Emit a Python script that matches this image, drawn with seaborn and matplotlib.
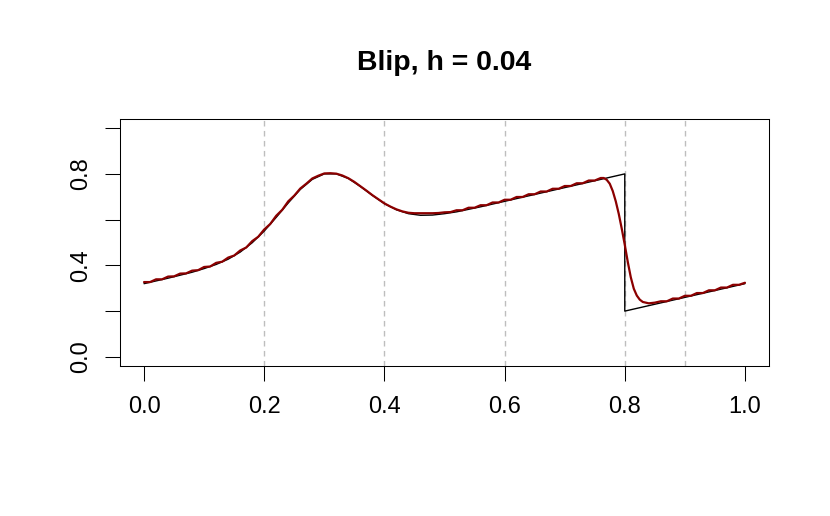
import matplotlib
matplotlib.use("Agg")
import matplotlib.pyplot as plt
import seaborn as sns

# true Blip curve (black)
truth_x = [0.00, 0.02, 0.04, 0.06, 0.08, 0.10, 0.12, 0.14, 0.16, 0.18,
           0.20, 0.22, 0.24, 0.26, 0.28, 0.30, 0.32, 0.34, 0.36, 0.38,
           0.40, 0.42, 0.44, 0.46, 0.48, 0.50, 0.52, 0.54, 0.56,
           0.80, 0.80, 1.00]
truth_y = [0.320, 0.332, 0.344, 0.357, 0.370, 0.386, 0.404, 0.427, 0.458, 0.499,
           0.550, 0.610, 0.673, 0.732, 0.776, 0.800, 0.800, 0.780, 0.745, 0.706,
           0.670, 0.643, 0.626, 0.619, 0.620, 0.626, 0.634, 0.645, 0.656,
           0.800, 0.200, 0.320]

# smoothed estimate (dark red)
fit_x = [0.00, 0.01, 0.02, 0.03, 0.04, 0.05, 0.06, 0.07, 0.08, 0.09,
         0.10, 0.11, 0.12, 0.13, 0.14, 0.15, 0.16, 0.17, 0.18, 0.19,
         0.20, 0.21, 0.22, 0.23, 0.24, 0.25, 0.26, 0.27, 0.28, 0.29,
         0.30, 0.31, 0.32, 0.33, 0.34, 0.35, 0.36, 0.37, 0.38, 0.39,
         0.40, 0.41, 0.42, 0.43, 0.44, 0.45, 0.46, 0.47, 0.48, 0.49,
         0.50, 0.51, 0.52, 0.53, 0.54, 0.55, 0.56, 0.57, 0.58, 0.59,
         0.60, 0.61, 0.62, 0.63, 0.64, 0.65, 0.66, 0.67, 0.68, 0.69,
         0.70, 0.71, 0.72, 0.73, 0.74, 0.75, 0.76, 0.765, 0.77, 0.775,
         0.78, 0.785, 0.79, 0.795, 0.80, 0.805, 0.81, 0.815, 0.82, 0.825,
         0.83, 0.84, 0.85, 0.86, 0.87, 0.88, 0.89, 0.90, 0.91, 0.92,
         0.93, 0.94, 0.95, 0.96, 0.97, 0.98, 0.99, 1.00]
fit_y = [0.327, 0.327, 0.339, 0.339, 0.351, 0.352, 0.364, 0.365, 0.377, 0.379,
         0.393, 0.395, 0.411, 0.416, 0.434, 0.443, 0.465, 0.478, 0.506, 0.525,
         0.557, 0.581, 0.617, 0.643, 0.680, 0.705, 0.736, 0.757, 0.780, 0.792,
         0.802, 0.803, 0.801, 0.793, 0.781, 0.765, 0.746, 0.727, 0.707, 0.689,
         0.671, 0.657, 0.645, 0.636, 0.630, 0.628, 0.628, 0.628, 0.628, 0.629,
         0.632, 0.633, 0.641, 0.641, 0.652, 0.652, 0.663, 0.663, 0.675, 0.675,
         0.687, 0.687, 0.699, 0.699, 0.711, 0.711, 0.723, 0.723, 0.735, 0.735,
         0.747, 0.747, 0.759, 0.759, 0.771, 0.771, 0.782, 0.782, 0.774, 0.757,
         0.725, 0.680, 0.625, 0.560, 0.490, 0.415, 0.348, 0.298, 0.268, 0.250,
         0.240, 0.234, 0.237, 0.243, 0.243, 0.255, 0.255, 0.267, 0.267, 0.279,
         0.279, 0.291, 0.291, 0.303, 0.303, 0.315, 0.315, 0.324]

vlines = [0.2, 0.4, 0.6, 0.8, 0.9]
x_ticks = [0.0, 0.2, 0.4, 0.6, 0.8, 1.0]
x_labels = ["0.0", "0.2", "0.4", "0.6", "0.8", "1.0"]
y_ticks = [0.0, 0.2, 0.4, 0.6, 0.8, 1.0]
y_labels = ["0.0", "", "0.4", "", "0.8", ""]

sns.set_style("ticks")
plt.rcParams["font.family"] = ["Liberation Sans", "DejaVu Sans"]

fig = plt.figure(figsize=(8.3, 5.16), dpi=100)
ax = fig.add_axes([120 / 830, 1 - 366 / 516, 649 / 830, 247 / 516])

for v in vlines:
    ax.axvline(v, color="#BEBEBE", lw=1.0, ls=(0, (4, 3.2)), zorder=1)

sns.lineplot(x=truth_x, y=truth_y, estimator=None, sort=False,
             color="black", lw=1.0, ax=ax, zorder=2)
sns.lineplot(x=fit_x, y=fit_y, estimator=None, sort=False,
             color="#8B0000", lw=1.6, ax=ax, zorder=3)

ax.set_xlim(-0.04, 1.04)
ax.set_ylim(-0.04, 1.04)
ax.set_xticks(x_ticks)
ax.set_xticklabels(x_labels)
ax.set_yticks(y_ticks)
ax.set_yticklabels(y_labels, rotation=90, va="center")
ax.tick_params(axis="both", direction="out", length=10.8, width=0.75,
               color="black", labelsize=17, labelcolor="black")
ax.tick_params(axis="x", pad=11)
ax.tick_params(axis="y", pad=9)
for s in ax.spines.values():
    s.set_visible(True)
    s.set_color("black")
    s.set_linewidth(0.75)

ax.set_title("Blip, h = 0.04", fontsize=20.4, fontweight="bold", pad=35,
             color="black")

fig.savefig("out.png", dpi=100)
